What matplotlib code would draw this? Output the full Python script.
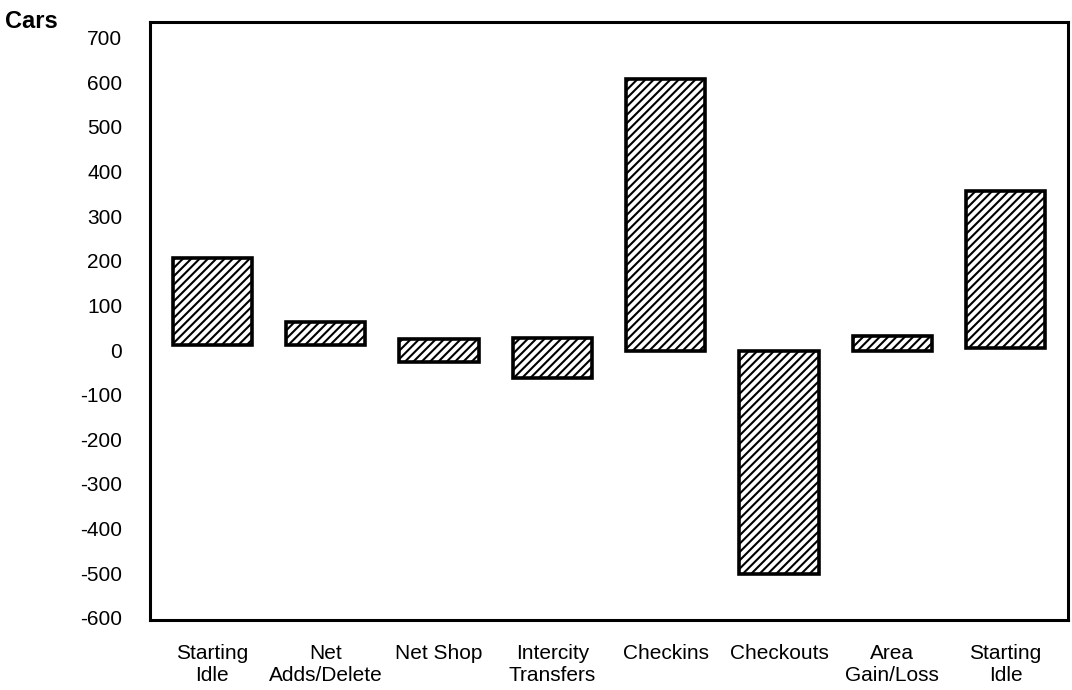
import matplotlib
matplotlib.use("Agg")
import matplotlib.pyplot as plt

categories = ["Starting\nIdle", "Net\nAdds/Delete", "Net Shop", "Intercity\nTransfers",
              "Checkins", "Checkouts", "Area\nGain/Loss", "Starting\nIdle"]
bar_bottom = [12, 12, -27, -63, -2, -502, -2, 4]
bar_top = [206, 63, 25, 27, 608, -2, 31, 357]
yticks = [700, 600, 500, 400, 300, 200, 100, 0, -100, -200, -300, -400, -500, -600]

plt.rcParams['font.family'] = ['Liberation Sans', 'DejaVu Sans']
plt.rcParams['hatch.linewidth'] = 1.5

fig = plt.figure(figsize=(10.72, 6.9), dpi=100)
ax = fig.add_axes([150/1072, 1 - 620/690, (1068-150)/1072, (620-22)/690])

x = list(range(len(categories)))
heights = [t - b for t, b in zip(bar_top, bar_bottom)]
ax.bar(x, heights, bottom=bar_bottom, width=0.7, facecolor='white',
       edgecolor='black', linewidth=2.6, hatch='////')

ax.set_xlim(-0.55, 7.55)
ax.set_ylim(-605, 735)
ax.set_yticks(yticks)
ax.set_yticklabels([str(v) for v in yticks], fontsize=15)
ax.set_xticks(x)
ax.set_xticklabels(categories, fontsize=15, linespacing=1.2)
ax.tick_params(axis='y', length=0, pad=20)
ax.tick_params(axis='x', length=0, pad=17)
for s in ax.spines.values():
    s.set_linewidth(2.2)

fig.text(5/1072, 1 - 21/690, "Cars", fontsize=17, fontweight='bold', va='center', ha='left')

fig.savefig("out.png", dpi=100)
